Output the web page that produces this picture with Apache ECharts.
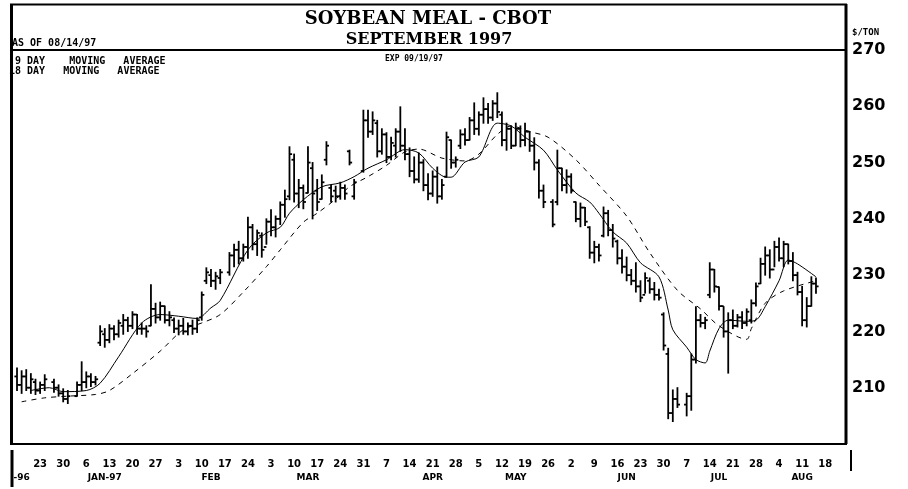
<!DOCTYPE html>
<html><head><meta charset="utf-8">
<script src="https://cdn.jsdelivr.net/npm/echarts@6/dist/echarts.min.js"></script>
<style>html,body{margin:0;padding:0;background:#fff}#c{width:908px;height:489px}</style>
</head><body><div id="c"></div>
<script>
// ---- data ----
const startDate = '1996-12-16';
const numCategories = 180; // weekdays shown on the axis (Dec 16 1996 .. Aug 22 1997)

// daily OHLC, one entry per weekday from Dec 16 1996 (null = exchange holiday)
const highs = [213.5,213,213.2,212.5,211.5,211,212.3,null,211.5,210.5,209.8,209.5,null,211,214.6,212.8,212.5,212,221,220.5,
221.2,221,222,223,222.5,223.5,223,221.5,221,228.3,225,225.2,224.5,223.5,222.4,222,222.3,221.5,222,222.4,
227,231.3,231,230.5,231,null,234,235.5,236,235.5,240.3,239,238,237.5,240,241.6,240.5,243,245.1,252.8,
251.5,247,246,252.8,250,247,247.8,253.7,246,245.8,246.5,246,252.2,247,null,259.3,259.3,259,257.5,256,
255.3,254.5,256,259.9,256,252.6,251,251.7,250.5,248,248.5,249.2,247,255.4,254,251,255.8,256,258,260.6,
259,261.5,260.5,261,262.4,259,257,256.5,257,256.5,257,255.5,254.4,250.5,246,null,243.4,252.2,249,248.7,
248,243,242.8,242,238.6,236,235.5,242.1,241.5,239,236.2,234.5,233.2,231,232.2,229,230.4,229.5,228.7,227.5,
223.3,217,209.6,210,null,209,216,224.4,223,222.5,232.2,231,227.9,224.4,223.3,223.8,223,223.5,224,225.6,
228.6,233,235,234.5,236,236.6,236,235.5,234,230.5,228,226,229.7,229.5];
const lows = [209.5,209,209.5,209,208.8,209,209.5,null,209.2,208.5,207.5,207.2,null,208.5,209.5,210,210.2,210.5,217.5,217.2,
218,218.5,219,219.5,220,220.5,219.5,219.5,219,221,221.5,222,221.5,221,219.8,219.4,219.5,219.4,219.5,219.8,
222,228.5,228,227.5,228.5,null,230,231.5,232,232.5,233,234.5,233.5,233.2,235.5,237,236.8,239,240.3,243.4,
243,242,241.8,244.6,240,241.5,243.5,249.6,243,243,243.5,243.5,249.6,243.5,null,248.3,254.5,255,251,251.5,
250,250.5,251,252,250.5,247.5,246.4,246.5,245,243.4,244,242.8,243.5,247.4,249,249.2,252.5,253.1,254,255,
254.9,257,257,257.5,258,253,252.2,252.5,253,252.8,253,252,248.7,243.7,242,null,238.6,242.5,245,244.6,
244.6,239.5,238.6,238.8,233,232.2,232.5,236.8,237,235,232,230.4,229,228.3,227,225.3,226.8,226.8,225.6,225.6,
216.7,204.5,204,206.5,null,205,206,214.4,220.8,220.5,226,227,223.8,219,212.6,220.5,220.8,220.5,221,221.5,
224.5,228.5,230,229.5,231.5,232.5,231.5,232,229,226.5,221,220.8,224.5,226.8];
const opens = [212,210.5,212,210,211,209.5,210.5,null,211,210,209,208,null,208.5,210.5,211,212,211,218,219.5,
218.5,220.5,219.5,221,222,221,223,220.5,220.5,221,224,222.5,224.5,222,222,220.5,221,220,221,220.5,
222.5,229,230,229,229.5,null,230.5,233.5,234.5,233,235,238.5,235.5,237,235,239.5,238.5,240,242.5,244,
250.5,244.5,245.5,244.6,249,245,243.5,250.5,245.5,245,244,245.5,252,244,null,248.5,257.5,255.5,257,252,
255,251,253,255.5,253,251.5,248.5,247,250,246,244.5,247.5,244,247.5,254,250,253,255,254,257.5,
256,258.5,259.5,258,260.5,258.5,254,256,253,256,254,255.5,253,250,245,null,243,243,249,246,
247.5,243,240,242,238.5,234,235,237,241,238,236,233,231.5,230,229,228,226.5,229,227.5,226.5,
223,216,205.5,208,null,207,208.5,215,222,221.5,226.5,231,227.9,224.5,220,222,221,222.5,221.5,222,
225,228.5,232,233.5,231,235,233,235.5,232.5,230,227,222,224.5,228.5];
const closes = [210.5,212,210,211.5,209.5,210.5,211.5,null,210,209,208,208.5,null,210.5,211,212,211,211.5,220,218.5,
220.5,219.5,221.5,222,221,223,220.5,220.5,220,224,222.5,224.5,222,222.5,220.5,221,220,221,220.5,222,
226.5,230.5,229,229.8,230.5,null,233.5,234.5,233,235,238.5,235.5,237.5,234.5,239.5,238.5,240,242.5,243.5,251.5,
244.5,245.5,243,250,244.5,243,246.5,253,244,244,245.5,244.5,250,246.5,null,257.5,255.5,257.5,252,255,
251,253.5,255.5,253,251.5,248.5,247,250,246,244.5,247.5,244,246,254.5,250,250.5,255,254,257.5,256,
258.5,259.5,258,260.5,259,254,256,253,256,254,255.5,253,250,245,243,null,239,249,246,247.5,
245,240,242,239.5,234,235,233.5,241,238,236.5,233,231.5,230,229,228,226,229.5,227.5,226.5,226,
217.5,205.5,208,207,null,208.5,215,222,221.5,222,231,228,224.5,220,222,221,222.5,221.5,223.5,225,
228,232,233.5,231,235,233,235.5,232.5,230,227,222,224.5,228.5,228];

// moving averages (weekday number, $/ton)
const ma9Day = [3,7,10,15,18,22,27,31,35,39,42,44,50,54,57,59,62,66,70,73,76,80,84,87,90,93,94,97,100,104,107,110,114,117,121,124,126,129,132,135,139,141,142,145,147,149,150,152,154,158,160,162,165,167,169,173];
const ma9Val = [209.5,210,209.3,209.5,210.8,215.5,221.5,223,222.7,222.3,224.2,225.5,234.5,237.5,238.5,241,243.4,245.7,246.4,247.5,249,250.5,252.3,251.7,249,247.4,247.4,250.1,251,257,256.5,254.5,252.2,248.7,244.6,243,241,237.7,235.7,232.2,229.7,223.8,220.3,217.2,215,214.4,216.5,220.5,222,221.8,222,224.4,229,232.7,232,229.7];
const ma18Day = [1,6,11,17,20,25,31,36,40,44,49,54,57,62,65,69,72,76,80,84,87,92,97,100,104,107,111,115,121,126,132,137,143,148,152,158,159,162,166,173];
const ma18Val = [207.5,208.2,208.5,208.8,209.5,212.5,216.5,220.3,221.5,223,227,231.5,234.5,239.4,241,243.5,245.7,247.5,249.5,251.9,252.4,250.8,250.3,251.5,255,256.5,255.5,254.5,250.5,246,240.5,234,227.3,224,221,218.6,220.5,225,227.2,229];

// axis text
const priceTicks = [210,220,230,240,250,260,270];
const monthLabels = ['-96','JAN-97','FEB','MAR','APR','MAY','JUN','JUL','AUG'];
const monthLabelDates = ['1996-12-17','1997-01-10','1997-02-12','1997-03-13','1997-04-21','1997-05-15','1997-06-18','1997-07-16','1997-08-11'];

// ---- build ----
function weekdays(start, n){
  const out=[]; const d=new Date(start+'T00:00:00Z');
  while(out.length<n){ const wd=d.getUTCDay(); if(wd>0&&wd<6) out.push(d.toISOString().slice(0,10)); d.setUTCDate(d.getUTCDate()+1); }
  return out;
}
const categories = weekdays(startDate, numCategories);
const monthIdx = {};
monthLabelDates.forEach((d,j)=>{ monthIdx[categories.indexOf(d)] = monthLabels[j]; });

const ohlc = [];
for (let i=0;i<highs.length;i++){ if(highs[i]==null) continue; ohlc.push([i, opens[i], highs[i], lows[i], closes[i]]); }

const chart = echarts.init(document.getElementById('c'), null, {renderer:'canvas'});
const mono = '"DejaVu Sans Mono"';
function txt(text, x, y, font, align){
  return {type:'text', z:100, x:x, y:y, style:{text:text, font:font, fill:'#000', textAlign:align||'left', textVerticalAlign:'middle', align:align||'left', verticalAlign:'middle'}};
}
function ln(x1,y1,x2,y2,w){
  return {type:'line', z:100, shape:{x1:x1,y1:y1,x2:x2,y2:y2}, style:{stroke:'#000', lineWidth:w}};
}

chart.setOption({
  animation:false,
  backgroundColor:'#fff',
  grid:{left:14.7, right:62, top:50, bottom:45},
  xAxis:[{
    type:'category', data:categories, boundaryGap:true,
    axisLine:{show:false}, axisTick:{show:false}, splitLine:{show:false},
    axisLabel:{interval:(i)=> i%5===0 && i>0 && i<=175, formatter:(v)=> String(+v.slice(8)),
      margin:15, color:'#000', fontFamily:'DejaVu Sans', fontWeight:'bold', fontSize:10, hideOverlap:false}
  },{
    type:'category', data:categories, boundaryGap:true, position:'bottom',
    axisLine:{show:false}, axisTick:{show:false}, splitLine:{show:false},
    axisLabel:{interval:(i)=> monthIdx[i]!==undefined, formatter:(v,i)=> monthIdx[i]||'',
      margin:29, color:'#000', fontFamily:'DejaVu Sans', fontWeight:'bold', fontSize:9, hideOverlap:false}
  }],
  yAxis:{
    type:'value', position:'right', min:200, max:270, interval:10,
    axisLine:{show:false}, axisTick:{show:false}, splitLine:{show:false},
    axisLabel:{formatter:(v)=> priceTicks.indexOf(v)>=0 ? String(v) : '', margin:6, color:'#000',
      fontFamily:'DejaVu Sans', fontWeight:'bold', fontSize:16}
  },
  series:[{
    type:'custom', xAxisIndex:0, data:ohlc, encode:{x:0, y:[1,2,3,4]},
    renderItem:function(params, api){
      const x = api.value(0);
      const pO = api.coord([x, api.value(1)]);
      const pH = api.coord([x, api.value(2)]);
      const pL = api.coord([x, api.value(3)]);
      const pC = api.coord([x, api.value(4)]);
      const t = 2.6;
      const st = {stroke:'#000', lineWidth:1.8};
      return {type:'group', children:[
        {type:'line', shape:{x1:pH[0],y1:pH[1]-0.5,x2:pL[0],y2:pL[1]+0.5}, style:st},
        {type:'line', shape:{x1:pO[0]-t,y1:pO[1],x2:pO[0],y2:pO[1]}, style:st},
        {type:'line', shape:{x1:pC[0],y1:pC[1],x2:pC[0]+t,y2:pC[1]}, style:st}
      ]};
    }
  },{
    type:'line', name:'9 DAY MOVING AVERAGE', xAxisIndex:0, showSymbol:false, smooth:0.3,
    data: ma9Day.map((d,j)=>[d, ma9Val[j]]),
    lineStyle:{color:'#000', width:1}
  },{
    type:'line', name:'18 DAY MOVING AVERAGE', xAxisIndex:0, showSymbol:false, smooth:0.3,
    data: ma18Day.map((d,j)=>[d, ma18Val[j]]),
    lineStyle:{color:'#000', width:1, type:[5,5]}
  }],
  graphic:[
    ln(10,4.5,847,4.5,2),
    ln(11.5,4,11.5,444,3),
    ln(846,4,846,444,3),
    ln(10,50,847,50,2),
    ln(10,444,847,444,2),
    ln(12,450,12,487,3),
    ln(851,450,851,471,2),
    txt('SOYBEAN MEAL - CBOT', 428, 19, 'bold 18px "DejaVu Serif"', 'center'),
    txt('SEPTEMBER 1997', 429, 40, 'bold 16px "DejaVu Serif"', 'center'),
    txt('AS OF 08/14/97', 12, 43, 'bold 10px '+mono),
    txt('EXP 09/19/97', 385, 59, 'bold 8px '+mono),
    txt('9 DAY    MOVING   AVERAGE', 15, 61, 'bold 10px '+mono),
    txt('18 DAY   MOVING   AVERAGE', 9, 71, 'bold 10px '+mono),
    txt('$/TON', 852, 33, 'bold 9px '+mono)
  ]
});
</script></body></html>
